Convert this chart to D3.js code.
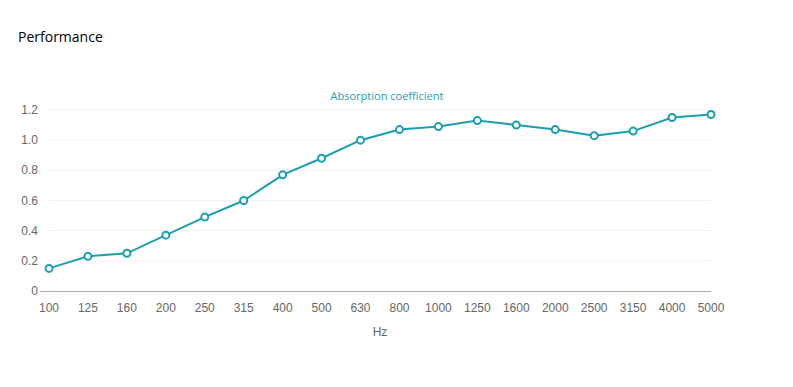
<!DOCTYPE html>
<html>
<head>
<meta charset="utf-8">
<script src="https://cdn.jsdelivr.net/npm/d3@7"></script>
<style>
  body { margin: 0; background: #fff; }
  svg { display: block; }
</style>
</head>
<body>
<div id="root"></div>
<script>
// frequency bands and measured values
const bands = ['100', '125', '160', '200', '250', '315', '400', '500', '630', '800', '1000', '1250', '1600', '2000', '2500', '3150', '4000', '5000'];
const absorption = [0.15, 0.23, 0.25, 0.37, 0.49, 0.60, 0.77, 0.88, 1.00, 1.07, 1.09, 1.13, 1.10, 1.07, 1.03, 1.06, 1.15, 1.17];
const yTicks = [0, 0.2, 0.4, 0.6, 0.8, 1.0, 1.2];

const W = 793, H = 387;
const teal = '#1a9fb2';

const svg = d3.select('#root').append('svg')
  .attr('width', W)
  .attr('height', H);

svg.append('text')
  .attr('x', 18).attr('y', 42)
  .attr('font-family', 'Open Sans, sans-serif')
  .attr('font-size', 14)
  .attr('fill', '#000')
  .text('Performance');

const x = d3.scalePoint().domain(bands).range([49, 711]);
const y = d3.scaleLinear().domain([0, 1.2]).range([291, 110]);

// grid
svg.append('g')
  .selectAll('line')
  .data(yTicks.slice(1))
  .enter()
  .append('line')
  .attr('x1', 49).attr('x2', 711)
  .attr('y1', d => y(d)).attr('y2', d => y(d))
  .attr('stroke', '#f0f0f0')
  .attr('stroke-width', 1);

// y labels
svg.append('g')
  .selectAll('text')
  .data(yTicks)
  .enter()
  .append('text')
  .attr('x', 38)
  .attr('y', d => y(d) + 4)
  .attr('text-anchor', 'end')
  .attr('font-family', 'Liberation Sans, Arial, sans-serif')
  .attr('font-size', 12)
  .attr('fill', '#666')
  .text(d => d === 0 ? '0' : d.toFixed(1));

// x axis
svg.append('line')
  .attr('x1', 40).attr('x2', 711)
  .attr('y1', y(0) + 0.5).attr('y2', y(0) + 0.5)
  .attr('stroke', '#aaa');

svg.append('g')
  .selectAll('text')
  .data(bands)
  .enter()
  .append('text')
  .attr('x', d => x(d))
  .attr('y', 312)
  .attr('text-anchor', 'middle')
  .attr('font-family', 'Liberation Sans, Arial, sans-serif')
  .attr('font-size', 12)
  .attr('fill', '#666')
  .text(d => d);

svg.append('text')
  .attr('x', 380).attr('y', 336)
  .attr('text-anchor', 'middle')
  .attr('font-family', 'Liberation Sans, Arial, sans-serif')
  .attr('font-size', 12)
  .attr('fill', '#666')
  .text('Hz');

// series label
svg.append('text')
  .attr('x', 387).attr('y', 100)
  .attr('text-anchor', 'middle')
  .attr('font-family', 'Open Sans, sans-serif')
  .attr('font-size', 11)
  .attr('fill', teal)
  .text('Absorption coefficient');

const pts = bands.map((b, i) => [b, absorption[i]]);

svg.append('path')
  .datum(pts)
  .attr('fill', 'none')
  .attr('stroke', teal)
  .attr('stroke-width', 2)
  .attr('d', d3.line().x(d => x(d[0])).y(d => y(d[1])));

svg.append('g')
  .selectAll('circle')
  .data(pts)
  .enter()
  .append('circle')
  .attr('cx', d => x(d[0]))
  .attr('cy', d => y(d[1]))
  .attr('r', 3.5)
  .attr('fill', '#fff')
  .attr('stroke', teal)
  .attr('stroke-width', 2);
</script>
</body>
</html>
